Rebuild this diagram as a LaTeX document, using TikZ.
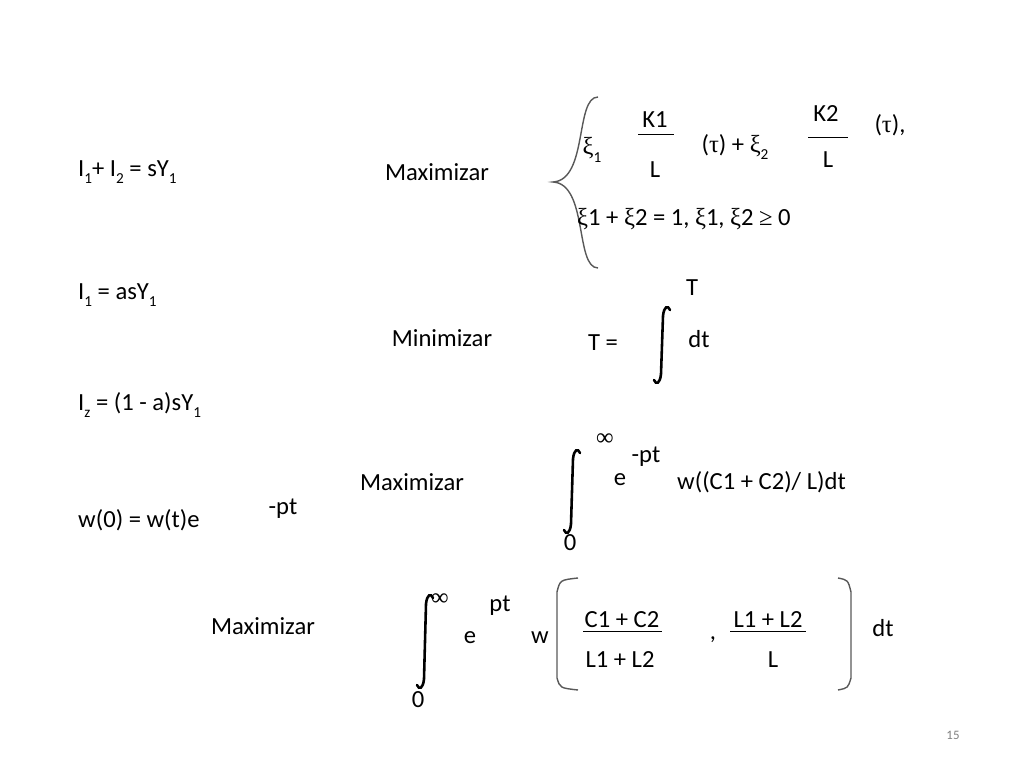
\documentclass[tikz,border=0pt]{standalone}
\usepackage{fontspec}
\setmainfont{Carlito}
\newfontfamily\symf{Liberation Serif}
\newcommand{\sub}[1]{\raisebox{-0.3em}{\fontsize{13}{13}\selectfont #1}}
\tikzset{
  txt/.style={inner sep=0pt, font=\fontsize{21}{24}\selectfont},
  wtxt/.style={txt, anchor=west},
  frac/.style={line width=0.8pt},
  brk/.style={line width=1.2pt, gray!70!black},
  intsign/.style={line width=2.2pt, line cap=round}
}
\begin{document}
\begin{tikzpicture}[x=0.03cm, y=-0.03cm]
\useasboundingbox (0,0) rectangle (1024,768);

% Left column
\node[wtxt] (eqa) at (78,172) {I\sub{1}+ I\sub{2} = sY\sub{1}};
\node[wtxt] (eqb) at (78,295) {I\sub{1} = asY\sub{1}};
\node[wtxt] (eqc) at (78,405) {I\sub{z} = (1 - a)sY\sub{1}};
\node[wtxt] (eqd) at (78,520) {w(0) = w(t)e};
\node[txt] (eqdexp) at (283,509) {-pt};

% First problem
\node[txt] (maxa) at (437,172) {Maximizar};
\draw[brk] (598,97) .. controls (575,97) and (588,180) .. (553,182)
  .. controls (588,184) and (575,268) .. (598,268);
\node[txt] (xia) at (592,150) {{\symf ξ}\sub{1}};
\node[txt] (ka) at (655,120) {K1};
\node[txt] (la) at (655,170) {L};
\draw[frac] (638,134) -- (674,134);
\node[txt] (taua) at (735,147) {({\symf τ}) + {\symf ξ}\sub{2}};
\node[txt] (kb) at (826,114) {K2};
\node[txt] (lb) at (828,160) {L};
\draw[frac] (808,137) -- (848,137);
\node[txt] (taub) at (890,125) {({\symf τ}),};
\node[wtxt] (cons) at (577,219) {{\symf ξ}1 + {\symf ξ}2 = 1, {\symf ξ}1, {\symf ξ}2 {\symf ≥} 0};

% Second problem
\node[txt] (mina) at (442,338) {Minimizar};
\node[txt] (teq) at (603,343) {T =};
\draw[intsign] (670,310) .. controls (668,305) and (664,306) .. (663,316)
  -- (661,374) .. controls (660,384) and (656,385) .. (654,380);
\node[txt] (tup) at (692,288) {T};
\node[txt] (dta) at (699,339) {dt};

% Third problem
\node[txt] (maxb) at (412,482) {Maximizar};
\draw[intsign] (580,453) .. controls (578,448) and (574,449) .. (573,459)
  -- (571,524) .. controls (570,534) and (566,535) .. (564,530);
\node[txt] (infb) at (605,440) {{\symf ∞}};
\node[txt] (zerob) at (570,543) {0};
\node[txt] (eb) at (620,480) {e};
\node[txt] (expb) at (646,457) {-pt};
\node[wtxt] (wb) at (677,482) {w((C1 + C2)/ L)dt};

% Fourth problem
\node[txt] (maxc) at (263,626) {Maximizar};
\draw[intsign] (433,598) .. controls (431,593) and (427,594) .. (426,604)
  -- (424,679) .. controls (423,689) and (419,690) .. (417,685);
\node[txt] (infc) at (440,600) {{\symf ∞}};
\node[txt] (zeroc) at (418,700) {0};
\node[txt] (ec) at (470,638) {e};
\node[txt] (expc) at (500,606) {pt};
\node[txt] (wc) at (540,638) {w};
\draw[brk] (578,578) .. controls (560,580) .. (557,592) -- (557,678) .. controls (560,688) .. (578,690);
\node[txt] (ca) at (622,620) {C1 + C2};
\draw[frac] (583,631) -- (662,631);
\node[txt] (lla) at (620,660) {L1 + L2};
\node[txt] (comma) at (713,640) {,};
\node[txt] (llb) at (768,620) {L1 + L2};
\draw[frac] (730,631) -- (806,631);
\node[txt] (lc) at (773,660) {L};
\draw[brk] (838,578) .. controls (848,580) .. (851,592) -- (851,678) .. controls (848,688) .. (838,690);
\node[txt] (dtc) at (883,628) {dt};

\node[inner sep=0pt, font=\fontsize{11}{12}\selectfont, gray] (pg) at (953,735) {15};
\end{tikzpicture}
\end{document}
